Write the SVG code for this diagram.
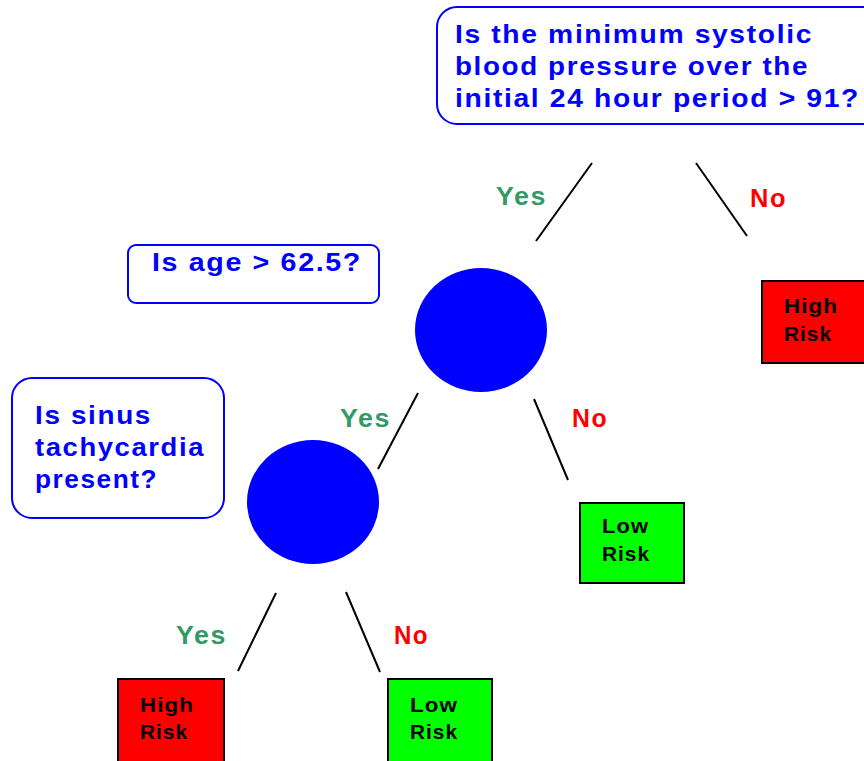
<svg xmlns="http://www.w3.org/2000/svg" width="864" height="761" viewBox="0 0 864 761">
<style>
.q{fill:#fff;stroke:#0000ff;stroke-width:2}
.qt{font-family:"Liberation Sans",Arial,sans-serif;font-weight:bold;font-size:26px;fill:#0000ff;letter-spacing:1.5px}
.dec{fill:#0000ff}
.edge{stroke:#000;stroke-width:2;fill:none}
.yes{font-family:"Liberation Sans",Arial,sans-serif;font-weight:bold;font-size:25px;fill:#339966;letter-spacing:1.5px}
.no{font-family:"Liberation Sans",Arial,sans-serif;font-weight:bold;font-size:25px;fill:#ff0000;letter-spacing:1.5px}
.high{fill:#ff0000;stroke:#000;stroke-width:2}
.low{fill:#00ff00;stroke:#000;stroke-width:2}
.rt{font-family:"Liberation Sans",Arial,sans-serif;font-weight:bold;font-size:21px;fill:#000;letter-spacing:1px}
</style>
<rect width="864" height="761" fill="#fff"/>
<g id="q-bp">
<rect class="q" x="437" y="7" width="450" height="117" rx="20"/>
<text class="qt" x="455" y="43" textLength="358" lengthAdjust="spacingAndGlyphs">Is the minimum systolic</text>
<text class="qt" x="455" y="75" textLength="354" lengthAdjust="spacingAndGlyphs">blood pressure over the</text>
<text class="qt" x="455" y="107" textLength="405" lengthAdjust="spacingAndGlyphs">initial 24 hour period &gt; 91?</text>
</g>
<g id="q-age">
<rect class="q" x="128" y="245" width="251" height="58" rx="8"/>
<text class="qt" x="152" y="271" textLength="210" lengthAdjust="spacingAndGlyphs">Is age &gt; 62.5?</text>
</g>
<g id="q-sinus">
<rect class="q" x="12" y="378" width="212" height="140" rx="20"/>
<text class="qt" x="35" y="424" textLength="117" lengthAdjust="spacingAndGlyphs">Is sinus</text>
<text class="qt" x="35" y="456" textLength="170" lengthAdjust="spacingAndGlyphs">tachycardia</text>
<text class="qt" x="35" y="488" textLength="123" lengthAdjust="spacingAndGlyphs">present?</text>
</g>
<g id="node-age">
<ellipse class="dec" cx="481" cy="330" rx="66" ry="62"/>
</g>
<g id="node-sinus">
<ellipse class="dec" cx="313" cy="502" rx="66" ry="62"/>
</g>
<g id="leaf-high-1">
<rect class="high" x="762" y="281" width="110" height="82"/>
<text class="rt" x="784" y="313" textLength="54" lengthAdjust="spacingAndGlyphs">High</text>
<text class="rt" x="784" y="341" textLength="48" lengthAdjust="spacingAndGlyphs">Risk</text>
</g>
<g id="leaf-low-1">
<rect class="low" x="580" y="503" width="104" height="80"/>
<text class="rt" x="602" y="533" textLength="47" lengthAdjust="spacingAndGlyphs">Low</text>
<text class="rt" x="602" y="561" textLength="48" lengthAdjust="spacingAndGlyphs">Risk</text>
</g>
<g id="leaf-high-2">
<rect class="high" x="118" y="679" width="106" height="90"/>
<text class="rt" x="140" y="712" textLength="54" lengthAdjust="spacingAndGlyphs">High</text>
<text class="rt" x="140" y="739" textLength="48" lengthAdjust="spacingAndGlyphs">Risk</text>
</g>
<g id="leaf-low-2">
<rect class="low" x="388" y="679" width="104" height="90"/>
<text class="rt" x="410" y="712" textLength="48" lengthAdjust="spacingAndGlyphs">Low</text>
<text class="rt" x="410" y="739" textLength="48" lengthAdjust="spacingAndGlyphs">Risk</text>
</g>
<g id="connectors">
<line class="edge" x1="592" y1="163" x2="536" y2="241"/>
<line class="edge" x1="696" y1="163" x2="747" y2="236"/>
<line class="edge" x1="418" y1="393" x2="378" y2="469"/>
<line class="edge" x1="534" y1="399" x2="568" y2="480"/>
<line class="edge" x1="276" y1="593" x2="238" y2="671"/>
<line class="edge" x1="346" y1="592" x2="380" y2="672"/>
<text class="yes" x="496" y="205" textLength="51" lengthAdjust="spacingAndGlyphs">Yes</text>
<text class="no" x="750" y="207" textLength="37" lengthAdjust="spacingAndGlyphs">No</text>
<text class="yes" x="340" y="427" textLength="51" lengthAdjust="spacingAndGlyphs">Yes</text>
<text class="no" x="572" y="427" textLength="36" lengthAdjust="spacingAndGlyphs">No</text>
<text class="yes" x="176" y="644" textLength="51" lengthAdjust="spacingAndGlyphs">Yes</text>
<text class="no" x="394" y="644" textLength="35" lengthAdjust="spacingAndGlyphs">No</text>
</g>
</svg>
